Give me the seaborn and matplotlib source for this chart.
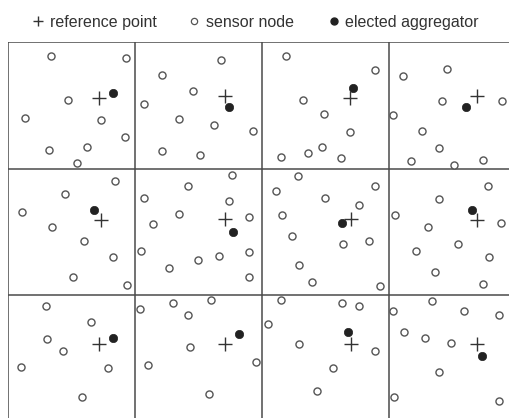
import pandas as pd
import matplotlib.pyplot as plt
import seaborn as sns
from matplotlib.lines import Line2D

# field of 4 x 3 cells, each cell 100 x 100 units, y counted downward
sensor_x = [34, 93, 47, 13, 73, 92, 32, 62, 54,
            168, 121, 146, 107, 135, 162, 193, 121, 151,
            219, 289, 232, 249, 269, 215, 236, 247, 262,
            311, 346, 342, 389, 303, 326, 339, 317, 351, 374,
            84, 45, 11, 35, 60, 83, 51, 94,
            176, 142, 107, 174, 135, 114, 190, 105, 150, 166, 190, 127, 190,
            228, 211, 289, 250, 276, 216, 224, 284, 264, 229, 239, 293,
            378, 339, 305, 388, 331, 354, 321, 379, 336, 374,
            30, 65, 31, 43, 10, 79, 58,
            104, 130, 160, 142, 143, 110, 195, 158,
            215, 263, 276, 205, 229, 289, 256, 243,
            334, 303, 359, 387, 312, 328, 349, 339, 304, 387]
sensor_y = [11, 13, 46, 60, 62, 75, 85, 83, 96,
            14, 26, 39, 49, 61, 66, 70, 86, 89,
            11, 22, 46, 57, 71, 91, 88, 83, 92,
            27, 21, 47, 47, 58, 70, 84, 94, 97, 93,
            110, 120, 134, 146, 157, 170, 186, 192,
            105, 114, 123, 126, 136, 144, 138, 165, 172, 169, 166, 179, 186,
            106, 118, 114, 123, 129, 137, 153, 157, 160, 176, 190, 193,
            114, 124, 137, 143, 146, 160, 165, 170, 182, 191,
            209, 221, 235, 244, 257, 258, 281,
            211, 206, 204, 216, 241, 255, 253, 278,
            204, 206, 209, 223, 239, 244, 258, 276,
            205, 213, 213, 216, 229, 234, 238, 261, 281, 284]

aggregator_x = [83, 174, 272, 361, 68, 177, 263, 365, 83, 182, 268, 373]
aggregator_y = [40, 51, 36, 51, 133, 150, 143, 133, 234, 231, 229, 248]

reference_x = [72, 171, 269, 369, 73, 171, 270, 369, 72, 171, 270, 369]
reference_y = [44, 43, 44, 43, 141, 140, 140, 141, 239, 239, 239, 239]

cell_edges_x = [0, 100, 200, 300, 400]
cell_edges_y = [0, 100, 200, 300]

legend_labels = ["reference point", "sensor node", "elected aggregator"]

sensors = pd.DataFrame({"x": sensor_x, "y": sensor_y})
aggregators = pd.DataFrame({"x": aggregator_x, "y": aggregator_y})
references = pd.DataFrame({"x": reference_x, "y": reference_y})

sns.set_style("white")
plt.rcParams["font.family"] = ["Liberation Sans", "DejaVu Sans"]

W, H = 510, 418
fig = plt.figure(figsize=(W / 100, H / 100), dpi=100)
ax = fig.add_axes([8 / W, -3.5 / H, 508 / W, 379.5 / H])

for xe in cell_edges_x:
    ax.axvline(xe, color="#4a4a4a", lw=1.1, zorder=1)
for ye in cell_edges_y:
    ax.axhline(ye, color="#4a4a4a", lw=1.1, zorder=1)

sns.scatterplot(data=sensors, x="x", y="y", ax=ax, marker="o", s=26,
                facecolor="white", edgecolor="#555555", linewidth=1.0, zorder=3)
sns.scatterplot(data=aggregators, x="x", y="y", ax=ax, marker="o", s=36,
                color="#222222", edgecolor="#222222", linewidth=0.5, zorder=4)
sns.scatterplot(data=references, x="x", y="y", ax=ax, marker="+", s=110,
                color="#333333", linewidth=1.0, zorder=4)

ax.set_xlim(0, 400)
ax.set_ylim(300, 0)
ax.set_axis_off()

# legend row drawn by hand so all labels share one baseline
key_styles = [
    dict(marker="+", ms=7, mew=1.0, color="#333333"),
    dict(marker="o", ms=4.5, mfc="white", mec="#555555", mew=0.9),
    dict(marker="o", ms=5, color="#222222"),
]
key_px = [38.5, 194, 334]
text_px = [50, 206, 345]
for style, kx, tx, lab in zip(key_styles, key_px, text_px, legend_labels):
    fig.add_artist(Line2D([kx / W], [1 - 21 / H], ls="none",
                          transform=fig.transFigure, **style))
    fig.text(tx / W, 1 - 27 / H, lab, fontsize=11.5, color="#333333",
             ha="left", va="baseline")

plt.savefig("out.png", dpi=100)
